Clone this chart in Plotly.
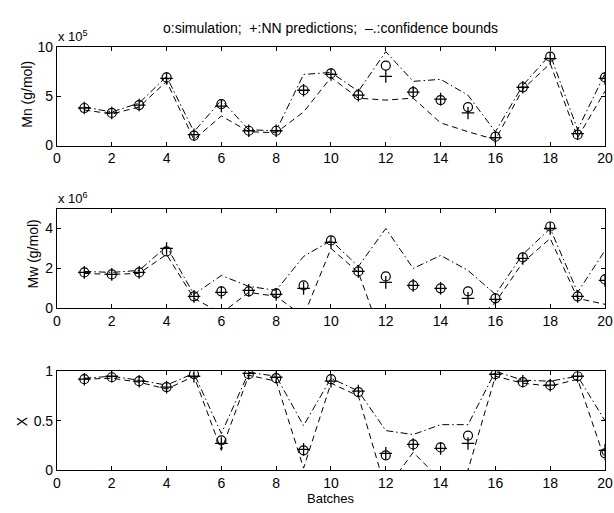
import plotly.graph_objects as go
from plotly.subplots import make_subplots

batches = list(range(1, 21))

# Mn (x 1e5 g/mol)
mn_sim = [3.8, 3.3, 4.1, 6.9, 1.0, 4.2, 1.5, 1.5, 5.6, 7.3, 5.1, 8.1, 5.4, 4.6, 3.9, 0.9, 5.9, 9.0, 1.1, 6.9]
mn_nn = [3.8, 3.3, 4.1, 6.8, 1.1, 4.0, 1.5, 1.5, 5.6, 7.2, 5.1, 7.0, 5.4, 4.7, 3.3, 0.8, 5.9, 8.8, 1.2, 6.8]
mn_upper = [3.9, 3.4, 4.3, 7.0, 1.4, 4.6, 1.6, 1.5, 7.2, 7.4, 5.5, 9.5, 6.5, 6.7, 5.1, 1.4, 6.1, 9.2, 1.6, 7.3]
mn_lower = [3.6, 3.2, 3.9, 6.5, 0.6, 3.0, 1.4, 1.3, 3.4, 6.9, 4.8, 4.6, 4.8, 2.3, 1.4, 0.6, 5.7, 8.3, 0.8, 5.5]

# Mw (x 1e6 g/mol)
mw_sim = [1.8, 1.7, 1.8, 2.85, 0.6, 0.85, 0.85, 0.75, 1.15, 3.4, 1.85, 1.6, 1.15, 1.0, 0.85, 0.5, 2.55, 4.1, 0.6, 1.45]
mw_nn = [1.8, 1.7, 1.8, 3.0, 0.6, 0.8, 0.9, 0.7, 1.0, 3.3, 1.85, 1.3, 1.15, 1.0, 0.5, 0.45, 2.5, 4.0, 0.6, 1.4]
mw_upper = [1.85, 1.8, 1.9, 3.1, 0.7, 1.65, 1.1, 0.9, 2.6, 3.4, 2.1, 4.0, 2.0, 2.65, 1.9, 0.7, 2.7, 4.0, 0.8, 2.9]
mw_lower = [1.75, 1.7, 1.75, 2.7, 0.5, -0.25, 0.8, 0.6, -0.4, 3.0, 1.8, -2.0, -1.2, -1.5, -0.9, 0.3, 2.3, 3.5, 0.5, 0.2]

# Conversion X
x_sim = [0.92, 0.94, 0.90, 0.84, 0.97, 0.30, 0.97, 0.93, 0.20, 0.92, 0.79, 0.15, 0.26, 0.23, 0.35, 0.97, 0.89, 0.86, 0.95, 0.17]
x_nn = [0.92, 0.95, 0.90, 0.84, 0.95, 0.27, 0.98, 0.94, 0.21, 0.90, 0.80, 0.17, 0.26, 0.22, 0.27, 0.97, 0.90, 0.86, 0.95, 0.20]
x_upper = [0.93, 0.95, 0.91, 0.86, 0.98, 0.37, 0.99, 0.95, 0.45, 0.93, 0.80, 0.40, 0.36, 0.46, 0.46, 1.00, 0.91, 0.90, 0.95, 0.50]
x_lower = [0.92, 0.93, 0.89, 0.82, 0.95, 0.20, 0.96, 0.90, 0.02, 0.88, 0.75, -0.20, 0.18, -0.10, 0.00, 0.95, 0.88, 0.85, 0.92, 0.10]

panels = [
    (mn_sim, mn_nn, mn_upper, mn_lower, [0, 10], [0, 5, 10], ["0", "5", "10"]),
    (mw_sim, mw_nn, mw_upper, mw_lower, [0, 5], [0, 2, 4], ["0", "2", "4"]),
    (x_sim, x_nn, x_upper, x_lower, [0, 1], [0, 0.5, 1], ["0", "0.5", "1"]),
]

W, H = 614, 513
fig = make_subplots(rows=3, cols=1)

FONT = "Liberation Sans, Arial, Helvetica, sans-serif"
ydomains = [(40, 142), (207, 310), (375, 477)]
x0px, x1px = 54, 613

for i, (sim, nn, up, lo, yr, tv, tt) in enumerate(panels):
    r = i + 1
    fig.add_trace(go.Scatter(x=batches, y=up, mode="lines",
                             line=dict(color="black", width=1, dash="7px,3px,1.5px,3px"),
                             showlegend=False), row=r, col=1)
    fig.add_trace(go.Scatter(x=batches, y=lo, mode="lines",
                             line=dict(color="black", width=1, dash="6px,4px"),
                             showlegend=False), row=r, col=1)
    fig.add_trace(go.Scatter(x=batches, y=sim, mode="markers",
                             marker=dict(symbol="circle-open", size=9, color="black",
                                         line=dict(width=1.2, color="black")),
                             showlegend=False), row=r, col=1)
    fig.add_trace(go.Scatter(x=batches, y=nn, mode="markers",
                             marker=dict(symbol="cross-thin-open", size=9, color="black",
                                         line=dict(width=1.3, color="black")),
                             showlegend=False), row=r, col=1)
    top, bot = ydomains[i]
    fig.update_xaxes(row=r, col=1, range=[0, 20], tickvals=list(range(0, 21, 2)),
                     domain=[x0px / W, x1px / W], ticklabeloverflow="allow",
                     ticks="inside", ticklen=4, tickcolor="black", showline=True,
                     linecolor="black", linewidth=1, mirror="ticks", showgrid=False,
                     zeroline=False, tickfont=dict(family=FONT, size=14, color="black"))
    fig.update_yaxes(row=r, col=1, range=yr, tickvals=tv, ticktext=tt,
                     domain=[1 - bot / H, 1 - top / H],
                     ticks="inside", ticklen=4, tickcolor="black", showline=True,
                     linecolor="black", linewidth=1, mirror="ticks", showgrid=False,
                     zeroline=False, tickfont=dict(family=FONT, size=14, color="black"))

ann = [
    dict(text="o:simulation;  +:NN predictions;  \u2013.:confidence bounds",
         x=333 / W, y=1 - 21 / H, font=dict(size=14)),
    dict(text="x 10<sup>5</sup>", x=70 / W, y=1 - 29 / H, font=dict(size=13)),
    dict(text="x 10<sup>6</sup>", x=70 / W, y=1 - 196 / H, font=dict(size=13)),
    dict(text="Mn (g/mol)", x=24 / W, y=1 - 89 / H, textangle=-90, font=dict(size=14)),
    dict(text="Mw (g/mol)", x=30 / W, y=1 - 254 / H, textangle=-90, font=dict(size=14)),
    dict(text="X", x=18 / W, y=1 - 427 / H, textangle=-90, font=dict(size=14)),
    dict(text="Batches", x=333 / W, y=1 - 506 / H, font=dict(size=13)),
]
for a in ann:
    a.update(xref="paper", yref="paper", showarrow=False, xanchor="center", yanchor="middle")
    a["font"].update(family=FONT, color="black")
    fig.add_annotation(**a)

fig.update_layout(width=W, height=H, margin=dict(l=0, r=0, t=0, b=0),
                  paper_bgcolor="white", plot_bgcolor="white",
                  font=dict(family=FONT, color="black"))

fig.write_html("out.html")
